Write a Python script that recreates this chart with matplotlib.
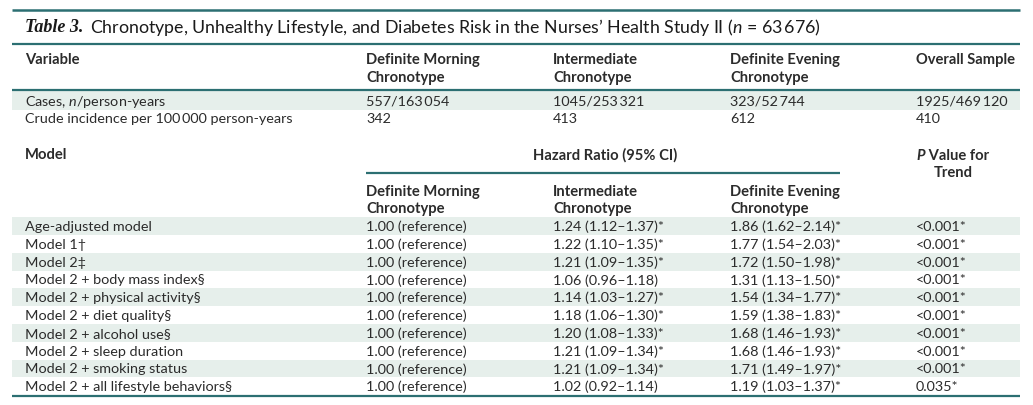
import matplotlib
matplotlib.use("Agg")
import matplotlib.pyplot as plt
from matplotlib.patches import Rectangle

plt.rcParams["font.family"] = ["Lato", "DejaVu Sans"]
plt.rcParams["mathtext.fontset"] = "custom"
plt.rcParams["mathtext.rm"] = "Lato"
plt.rcParams["mathtext.it"] = "Lato:italic"
plt.rcParams["mathtext.bf"] = "Lato:bold"

TEAL = "#2c6f72"
SHADE = "#e6efeb"
INK = "#2b2b2b"

# ---- data ----
groups = ["Definite Morning\nChronotype", "Intermediate\nChronotype",
          "Definite Evening\nChronotype"]
cases = ["557/163\u2009054", "1045/253\u2009321", "323/52\u2009744", "1925/469\u2009120"]
crude = ["342", "413", "612", "410"]

models = ["Age-adjusted model", "Model 1\u2020", "Model 2\u2021",
          "Model 2 + body mass index\u00a7", "Model 2 + physical activity\u00a7",
          "Model 2 + diet quality\u00a7", "Model 2 + alcohol use\u00a7",
          "Model 2 + sleep duration", "Model 2 + smoking status",
          "Model 2 + all lifestyle behaviors\u00a7"]
hr_morning = ["1.00 (reference)"] * 10
hr_inter = ["1.24 (1.12\u20131.37)*", "1.22 (1.10\u20131.35)*", "1.21 (1.09\u20131.35)*",
            "1.06 (0.96\u20131.18)", "1.14 (1.03\u20131.27)*", "1.18 (1.06\u20131.30)*",
            "1.20 (1.08\u20131.33)*", "1.21 (1.09\u20131.34)*", "1.21 (1.09\u20131.34)*",
            "1.02 (0.92\u20131.14)"]
hr_evening = ["1.86 (1.62\u20132.14)*", "1.77 (1.54\u20132.03)*", "1.72 (1.50\u20131.98)*",
              "1.31 (1.13\u20131.50)*", "1.54 (1.34\u20131.77)*", "1.59 (1.38\u20131.83)*",
              "1.68 (1.46\u20131.93)*", "1.68 (1.46\u20131.93)*", "1.71 (1.49\u20131.97)*",
              "1.19 (1.03\u20131.37)*"]
p_trend = ["<0.001*"] * 9 + ["0.035*"]

# ---- layout (pixel coords, y down) ----
W, H = 1033, 406
X0, X1 = 12, 1020
COLX = [25, 366, 553, 730, 916]
FS = 10.4
FSB = 10.6

fig = plt.figure(figsize=(W / 100, H / 100), dpi=100)
ax = fig.add_axes([0, 0, 1, 1])
ax.set_xlim(0, W)
ax.set_ylim(H, 0)
ax.axis("off")


def rule(y, xa=X0, xb=X1, lw=1.6):
    ax.plot([xa, xb], [y, y], color=TEAL, lw=lw, solid_capstyle="butt")


def band(yc, h=18.5):
    ax.add_patch(Rectangle((X0, yc - h / 2), X1 - X0, h, color=SHADE, lw=0, zorder=0))


def txt(x, y, s, bold=False, ha="left", **kw):
    return ax.text(x, y, s, fontsize=FSB if bold else FS, color=INK, ha=ha, va="center",
                   fontweight="bold" if bold else "normal", **kw)


# title
rule(11, lw=1.8)
t = ax.text(COLX[0], 28, "Table 3.", fontsize=13, fontweight="bold", style="italic",
            color="#1a1a1a", va="center", family=["Liberation Serif"])
ax.annotate("Chronotype, Unhealthy Lifestyle, and Diabetes Risk in the Nurses\u2019 Health Study II "
            "($\\it{n}$ = 63\u2009676)", xy=(1, 0.5), xycoords=t, xytext=(5, 0),
            textcoords="offset points", fontsize=12.8, color="#1a1a1a", va="center")
rule(45)

# top header
txt(COLX[0], 60, "Variable", bold=True)
for x, g in zip(COLX[1:4], groups):
    a, b = g.split("\n")
    txt(x, 60, a, bold=True)
    txt(x, 78, b, bold=True)
txt(COLX[4], 60, "Overall Sample", bold=True)
rule(91)

# case rows
band(101.5)
txt(COLX[0], 102, "Cases, $\\it{n}$/person-years")
txt(COLX[0], 119, "Crude incidence per 100\u2009000 person-years")
for x, c, r in zip(COLX[1:], cases, crude):
    txt(x, 102, c)
    txt(x, 119, r)

# model header
txt(COLX[0], 155, "Model", bold=True)
txt(605, 155, "Hazard Ratio (95% CI)", bold=True, ha="center")
tp = txt(916, 156, "P", bold=True, style="italic")
ax.annotate(" Value for", xy=(1, 0.5), xycoords=tp, fontsize=FSB, fontweight="bold",
            color=INK, va="center")
txt(953, 173, "Trend", bold=True, ha="center")
rule(174, COLX[1], 840)
for x, g in zip(COLX[1:4], groups):
    a, b = g.split("\n")
    txt(x, 192, a, bold=True)
    txt(x, 209, b, bold=True)

# model rows
y0, dy = 227, 17.8
for i, (m, a, b, c, p) in enumerate(zip(models, hr_morning, hr_inter, hr_evening, p_trend)):
    y = y0 + i * dy
    if i % 2 == 0:
        band(y, dy)
    txt(COLX[0], y, m)
    txt(COLX[1], y, a)
    txt(COLX[2], y, b)
    txt(COLX[3], y, c)
    txt(COLX[4], y, p)
rule(397)

fig.savefig("out.png", dpi=100)
